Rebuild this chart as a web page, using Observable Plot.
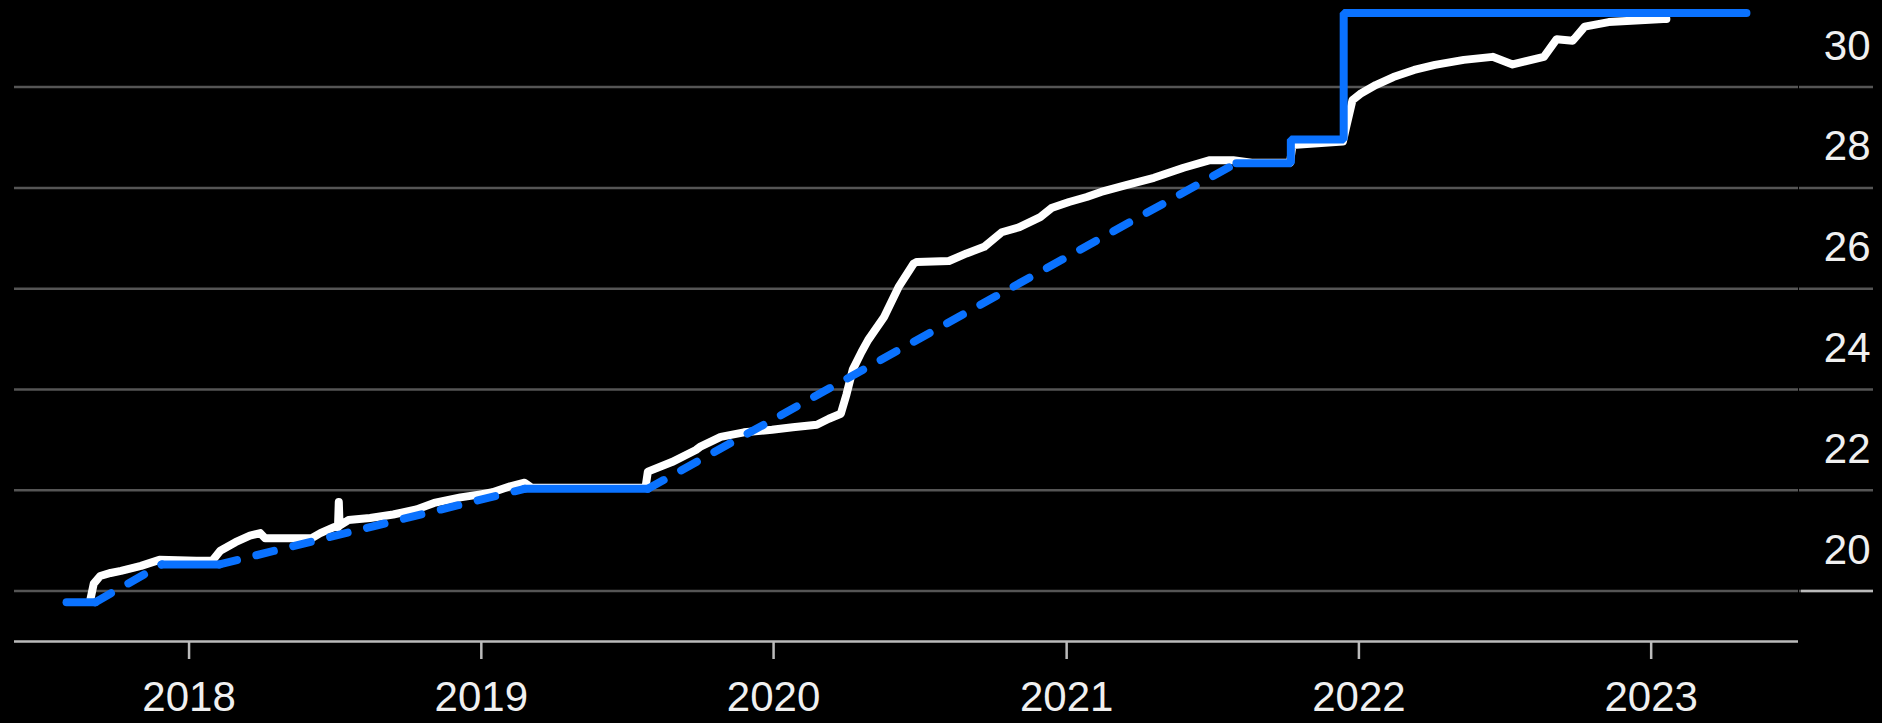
<!DOCTYPE html>
<html>
<head>
<meta charset="utf-8">
<script src="https://cdn.jsdelivr.net/npm/d3@7"></script>
<script src="https://cdn.jsdelivr.net/npm/@observablehq/plot@0.6"></script>
<style>
  html, body { margin: 0; padding: 0; background: #000; }
  #chart svg { display: block; }
</style>
</head>
<body>
<div id="chart"></div>
<script>
// White series (actual)
const actualDates = [
  "2017-08-31","2017-09-04","2017-09-12","2017-09-25","2017-10-08","2017-11-02","2017-11-25",
  "2018-01-10","2018-01-30","2018-02-09","2018-02-28","2018-03-18","2018-03-31","2018-04-06",
  "2018-06-03","2018-06-14","2018-07-01","2018-07-06","2018-07-07","2018-07-08","2018-07-19",
  "2018-08-15","2018-09-13","2018-10-12","2018-11-03","2018-12-06","2018-12-31",
  "2019-01-15","2019-02-06","2019-02-24","2019-03-05","2019-07-25","2019-07-28","2019-08-27",
  "2019-09-26","2019-10-01","2019-10-27","2019-11-25","2019-12-30",
  "2020-01-25","2020-02-24","2020-03-10","2020-03-25","2020-04-01","2020-04-09","2020-04-20",
  "2020-04-28","2020-05-18","2020-06-05","2020-06-24","2020-06-28","2020-08-07","2020-08-29",
  "2020-09-20","2020-10-12","2020-11-03","2020-11-29","2020-12-13",
  "2021-01-04","2021-01-26","2021-02-13","2021-03-15","2021-04-20","2021-05-27","2021-06-29",
  "2021-07-28","2021-08-20","2021-10-07","2021-10-10","2021-12-12","2021-12-16",
  "2021-12-24","2022-01-04","2022-01-22","2022-02-13","2022-03-11","2022-04-06","2022-05-12",
  "2022-06-17","2022-07-12","2022-08-20","2022-09-05","2022-09-25","2022-10-10","2022-11-09",
  "2023-01-16","2023-01-20"
];
const actualValues = [
  19.85,20.15,20.30,20.36,20.40,20.50,20.62,
  20.60,20.60,20.80,20.97,21.10,21.15,21.05,
  21.05,21.15,21.27,21.27,21.77,21.30,21.41,
  21.45,21.52,21.62,21.75,21.86,21.92,
  21.96,22.08,22.15,22.05,22.05,22.37,22.56,
  22.80,22.86,23.06,23.15,23.20,
  23.25,23.30,23.42,23.52,23.90,24.40,24.75,
  24.98,25.44,26.03,26.50,26.53,26.55,26.70,
  26.83,27.12,27.22,27.42,27.60,
  27.72,27.82,27.92,28.05,28.20,28.40,28.55,
  28.55,28.50,28.50,28.85,28.92,29.20,
  29.74,29.88,30.04,30.20,30.34,30.44,30.54,
  30.60,30.45,30.60,30.95,30.92,31.20,31.29,
  31.35,31.35
];

// Blue series (target path); dashed flag applies to the segment after each point
const targetDates = [
  "2017-08-01","2017-09-06","2017-11-28","2018-02-08","2019-02-24","2019-07-28",
  "2021-08-01","2021-10-08","2021-10-08","2021-12-13","2021-12-13","2023-04-30"
];
const targetValues = [19.78,19.78,20.53,20.53,22.03,22.03,28.49,28.49,28.96,28.96,31.47,31.47];
const targetDashedAfter = [false,true,false,true,false,true,false,false,false,false,false];

const yTicks = [20,22,24,26,28,30];
const xTickYears = ["2018-01-01","2019-01-01","2020-01-01","2021-01-01","2022-01-01","2023-01-01"];

const actual = actualDates.map((d, i) => ({date: new Date(d), value: actualValues[i]}));

// group target path into runs of equal style
const runs = [];
for (let i = 0; i < targetDates.length - 1; i++) {
  const dashed = targetDashedAfter[i];
  let run = runs[runs.length - 1];
  if (!run || run.dashed !== dashed) {
    run = {dashed, id: runs.length, pts: [i]};
    runs.push(run);
  }
  run.pts.push(i + 1);
}
const solidRows = [], dashedRows = [];
for (const r of runs) {
  for (const i of r.pts) {
    (r.dashed ? dashedRows : solidRows).push({date: new Date(targetDates[i]), value: targetValues[i], run: r.id});
  }
}

const blue = "#0a72ff";
const fontSize = 42;

const chart = Plot.plot({
  width: 1882,
  height: 723,
  marginLeft: 14,
  marginRight: 84,
  marginTop: 11,
  marginBottom: 82,
  x: {type: "utc", domain: [new Date("2017-05-28"), new Date("2023-07-04")]},
  y: {domain: [19, 31.5]},
  style: {background: "#000", color: "#f0f0f0", fontFamily: "'Liberation Sans', Arial, sans-serif"},
  marks: [
    Plot.gridY(yTicks, {stroke: "#555", strokeOpacity: 1, strokeWidth: 2.5}),
    Plot.axisY(yTicks, {
      anchor: "right", tickSize: 74, stroke: "#555", strokeWidth: 2.5,
      tickFormat: () => "", label: null
    }),
    Plot.axisY(yTicks, {
      anchor: "right", tickSize: 0, tickPadding: 72, textAnchor: "end", dy: -41,
      stroke: "none", fill: "#f0f0f0", fontSize, label: null, tickFormat: d3.format("d")
    }),
    Plot.axisY([20], {anchor: "right", tickSize: 72, stroke: "#bbb", strokeWidth: 2.5, dx: 2, tickFormat: () => "", label: null}),
    Plot.ruleY([19], {stroke: "#bbb", strokeWidth: 2.5}),
    Plot.axisX(xTickYears.map(d => new Date(d)), {
      anchor: "bottom", tickSize: 18, tickPadding: 22, stroke: "#bbb", strokeWidth: 2.5,
      fill: "#f0f0f0", fontSize, tickFormat: d3.utcFormat("%Y"), label: null
    }),
    Plot.line(actual, {x: "date", y: "value", stroke: "#fff", strokeWidth: 8, strokeLinejoin: "round", strokeLinecap: "round"}),
    Plot.line(dashedRows, {x: "date", y: "value", z: "run", stroke: blue, strokeWidth: 8, strokeDasharray: "18,20", strokeLinecap: "round"}),
    Plot.line(solidRows, {x: "date", y: "value", z: "run", stroke: blue, strokeWidth: 8, strokeLinejoin: "miter", strokeLinecap: "round"})
  ]
});
document.getElementById("chart").appendChild(chart);
</script>
</body>
</html>
